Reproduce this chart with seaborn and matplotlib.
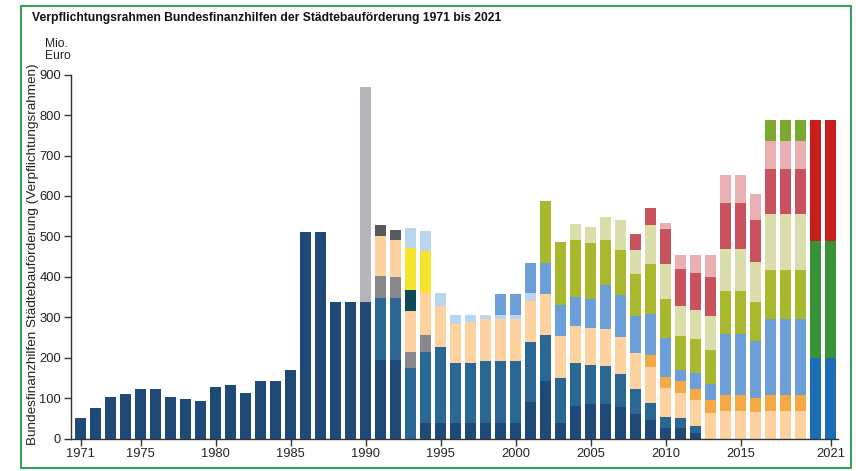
import matplotlib
matplotlib.use("Agg")
import matplotlib.pyplot as plt
import pandas as pd
import seaborn as sns
from matplotlib.patches import Rectangle

# ---------------- data (Mio. Euro) ----------------
# each programme: first year and yearly values from that year on (bottom -> top order)
sanierung_start = 1971
sanierung = [50, 77, 102, 110, 123, 123, 102, 97, 94, 128, 133, 113, 143, 143, 169,
             511, 511, 337, 337, 337, 195, 195, 0, 40, 40, 40, 40, 40, 40, 40, 91, 142,
             40, 82, 85, 87, 79, 61, 45, 26, 26, 13]
sanierung_ost_start = 1991
sanierung_ost = [154, 153, 174, 175, 187, 147, 147, 152, 152, 152, 147, 114, 110, 104,
                 97, 93, 81, 61, 44, 27, 24, 18]
modernisierung_start = 1991
modernisierung = [54, 51, 41, 41]
denkmalschutz_start = 1991
denkmalschutz = [97, 92, 101, 104, 101, 96, 102, 103, 103, 103, 103, 102, 103, 93, 92,
                 90, 91, 91, 88, 72, 62, 65, 64, 69, 69, 66, 69, 69, 69]
denkmalschutz_west_start = 2009
denkmalschutz_west = [29, 28, 31, 27, 32, 40, 40, 35, 40, 40, 40]
planung_start = 1993
planung = [52]
erschliessung_start = 1993
erschliessung = [104, 103]
modellvorhaben_start = 1993
modellvorhaben = [50, 50, 31, 23, 18, 12, 12, 12, 18]
soziale_stadt_start = 1999
soziale_stadt = [51, 51, 76, 77, 78, 72, 71, 110, 104, 90, 103, 97, 28, 40, 39, 151,
                 151, 141, 188, 188, 188]
stadtumbau_ost_start = 2002
stadtumbau_ost = [153, 154, 140, 138, 111, 111, 104, 123, 95, 82, 83, 84, 105, 105, 97,
                  121, 121, 121]
stadtumbau_west_start = 2004
stadtumbau_west = [40, 41, 56, 75, 59, 95, 87, 76, 72, 84, 105, 105, 97, 138, 138, 138]
zentren_start = 2008
zentren = [40, 43, 86, 91, 92, 97, 112, 112, 104, 111, 111, 111]
kleinere_staedte_start = 2010
kleinere_staedte = [16, 33, 44, 54, 70, 70, 65, 69, 69, 69]
stadtgruen_start = 2017
stadtgruen = [51, 51, 51]
sonder_ost_start = 1990
sonder_ost = [533]
sonder_1991_start = 1991
sonder_1991 = [27, 26]
sozialer_zusammenhalt_start = 2020
sozialer_zusammenhalt = [199, 199]
wachstum_start = 2020
wachstum = [290, 290]
lebendige_zentren_start = 2020
lebendige_zentren = [299, 299]

programmes = [  # bottom -> top
    ("Sanierung und Entwicklung", sanierung_start, sanierung, "#1f4a78"),
    ("Sanierung Ost", sanierung_ost_start, sanierung_ost, "#2a6795"),
    ("Modernisierung", modernisierung_start, modernisierung, "#88888c"),
    ("Städtebaulicher Denkmalschutz", denkmalschutz_start, denkmalschutz, "#fdd29f"),
    ("Denkmalschutz West", denkmalschutz_west_start, denkmalschutz_west, "#f5a843"),
    ("Planung", planung_start, planung, "#0f4858"),
    ("Erschließung", erschliessung_start, erschliessung, "#f4e52c"),
    ("Modellvorhaben", modellvorhaben_start, modellvorhaben, "#bcd5ef"),
    ("Soziale Stadt", soziale_stadt_start, soziale_stadt, "#6c9fd8"),
    ("Stadtumbau Ost", stadtumbau_ost_start, stadtumbau_ost, "#a9b92e"),
    ("Stadtumbau West", stadtumbau_west_start, stadtumbau_west, "#d9deaa"),
    ("Aktive Zentren", zentren_start, zentren, "#c9525f"),
    ("Kleinere Städte", kleinere_staedte_start, kleinere_staedte, "#e9b0b4"),
    ("Zukunft Stadtgrün", stadtgruen_start, stadtgruen, "#7aa92d"),
    ("Sonderprogramm Ost", sonder_ost_start, sonder_ost, "#b4b6b9"),
    ("Sonderprogramm 1991", sonder_1991_start, sonder_1991, "#58585e"),
    ("Sozialer Zusammenhalt", sozialer_zusammenhalt_start, sozialer_zusammenhalt, "#1b6db4"),
    ("Wachstum und nachhaltige Erneuerung", wachstum_start, wachstum, "#3a9238"),
    ("Lebendige Zentren", lebendige_zentren_start, lebendige_zentren, "#c81e1e"),
]

rows = []
for name, start, vals, _ in programmes:
    for i, v in enumerate(vals):
        rows.append({"Jahr": start + i, "Programm": name, "Wert": v})
df = pd.DataFrame(rows)
palette = {name: col for name, _, _, col in programmes}
hue_order = [p[0] for p in programmes][::-1]  # seaborn stacks first level on top

x_ticks = [1971, 1975, 1980, 1985, 1990, 1995, 2000, 2005, 2010, 2015, 2021]
y_ticks = [0, 100, 200, 300, 400, 500, 600, 700, 800, 900]

# ---------------- figure ----------------
sns.set_theme(style="white")
plt.rcParams["font.family"] = ["Liberation Sans", "DejaVu Sans"]

W, H = 856, 471
fig = plt.figure(figsize=(W / 100, H / 100), dpi=100)
ax = fig.add_axes([70.7 / W, 1 - 438.7 / H, (838 - 70.7) / W, (438.7 - 74.6) / H])

sns.histplot(data=df, x="Jahr", weights="Wert", hue="Programm", hue_order=hue_order,
             palette=palette, multiple="stack", discrete=True, shrink=0.7,
             element="bars", linewidth=0, alpha=1, legend=False, ax=ax)

ax.set_xlim(1970.33, 2021.5)
ax.set_ylim(0, 900)
ax.set_xticks(x_ticks)
ax.set_xticklabels([str(t) for t in x_ticks])
ax.set_yticks(y_ticks)
ax.set_xlabel("")
ax.set_ylabel("")
for s in ["top", "right"]:
    ax.spines[s].set_visible(False)
for s in ["left", "bottom"]:
    ax.spines[s].set_color("#333333")
    ax.spines[s].set_linewidth(1.0)
ax.tick_params(axis="both", which="both", direction="out", length=5, width=1,
               color="#333333", labelsize=9.3, labelcolor="#222222", pad=2,
               left=True, bottom=True)
ax.grid(False)

fig.text(31.7 / W, 1 - 18.3 / H,
         "Verpflichtungsrahmen Bundesfinanzhilfen der Städtebauförderung 1971 bis 2021",
         fontsize=8.7, fontweight="bold", ha="left", va="center", color="#111111")
fig.text(45 / W, 1 - 38 / H, "Mio.\nEuro", fontsize=8.7, ha="left", va="top",
         linespacing=0.95, color="#222222")
fig.text(33 / W, 1 - 254 / H,
         "Bundesfinanzhilfen Städtebauförderung (Verpflichtungsrahmen)",
         fontsize=9.7, rotation=90, ha="center", va="center", color="#222222")

fig.patches.append(Rectangle((21 / W, 1 - 468 / H), (851 - 21) / W, (468 - 6) / H,
                             transform=fig.transFigure, fill=False,
                             edgecolor="#3aa35a", linewidth=1.5))

fig.savefig("out.png", dpi=100)
